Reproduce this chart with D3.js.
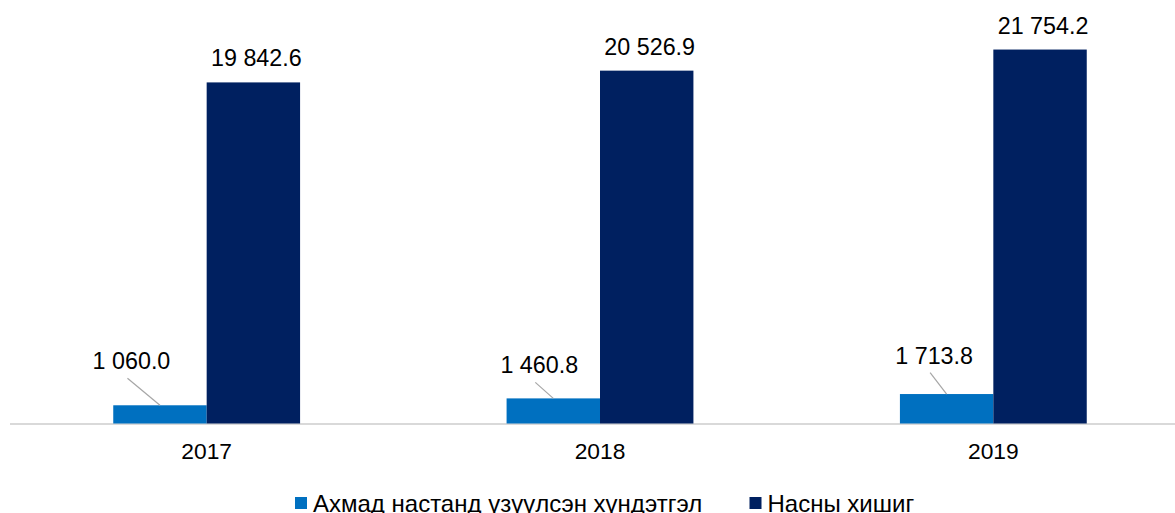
<!DOCTYPE html>
<html>
<head>
<meta charset="utf-8">
<script src="https://cdn.jsdelivr.net/npm/d3@7"></script>
<style>
  html, body { margin: 0; padding: 0; background: #fff; }
  svg { display: block; }
  text { font-family: "Liberation Sans", Arial, sans-serif; fill: #000; }
</style>
</head>
<body>
<svg id="chart" width="1175" height="513"></svg>
<script>
// ---- Data ----
const categories = ["2017", "2018", "2019"];
const seriesNames = ["Ахмад настанд үзүүлсэн хүндэтгэл", "Насны хишиг"];
const honorValues = [1060.0, 1460.8, 1713.8];
const allowanceValues = [19842.6, 20526.9, 21754.2];

// ---- Styling / layout constants ----
const colors = ["#0070C0", "#002060"];
const W = 1175, H = 513;
const plotLeft = 10, plotRight = 1190, baseY = 423.5;
const fontSize = 23.3;
// manual label placement for small series (dx from bar centre, dy of baseline from bar top)
const smallLabelOffsets = [[-28.5, -36], [-14, -25], [-12.5, -30.5]];

const svg = d3.select("#chart");

const x0 = d3.scaleBand().domain(categories).range([plotLeft, plotRight]).paddingInner(0.525).paddingOuter(0.2625);
const x1 = d3.scaleBand().domain([0, 1]).range([0, x0.bandwidth()]).padding(0);
const y = d3.scaleLinear().domain([0, 25000]).range([baseY, baseY - 25000 * 0.01719]);

const fmt = v => {
  const s = v.toFixed(1);
  const [i, d] = s.split(".");
  return i.replace(/\B(?=(\d{3})+(?!\d))/g, " ") + "." + d;
};

const seriesData = [honorValues, allowanceValues];

// axis line
svg.append("line")
  .attr("x1", plotLeft).attr("x2", plotRight)
  .attr("y1", 424).attr("y2", 424)
  .attr("stroke", "#d9d9d9").attr("stroke-width", 2);

// bars
const groups = svg.selectAll("g.cat").data(categories).enter().append("g")
  .attr("class", "cat")
  .attr("transform", d => `translate(${x0(d)},0)`);

seriesData.forEach((vals, si) => {
  groups.append("rect")
    .attr("x", x1(si))
    .attr("width", x1.bandwidth())
    .attr("y", (d, i) => y(vals[i]))
    .attr("height", (d, i) => baseY - y(vals[i]))
    .attr("fill", colors[si]);
});

// large series labels
categories.forEach((c, i) => {
  const cx = x0(c) + x1(1) + x1.bandwidth() / 2;
  svg.append("text")
    .attr("x", cx + 3).attr("y", y(allowanceValues[i]) - 16)
    .attr("text-anchor", "middle")
    .style("font-size", fontSize + "px")
    .text(fmt(allowanceValues[i]));
});

// small series labels with leader lines
categories.forEach((c, i) => {
  const cx = x0(c) + x1(0) + x1.bandwidth() / 2;
  const top = y(honorValues[i]);
  const lx = cx + smallLabelOffsets[i][0];
  const ly = top + smallLabelOffsets[i][1];
  svg.append("line")
    .attr("x1", lx - 4).attr("y1", ly + 9)
    .attr("x2", cx).attr("y2", top)
    .attr("stroke", "#a6a6a6").attr("stroke-width", 1.2);
  svg.append("text")
    .attr("x", lx).attr("y", ly)
    .attr("text-anchor", "middle")
    .style("font-size", fontSize + "px")
    .text(fmt(honorValues[i]));
});

// category axis labels
const xAxis = d3.axisBottom(x0).tickSize(0).tickPadding(0);
const ax = svg.append("g").attr("transform", `translate(0,${baseY})`).call(xAxis);
ax.select(".domain").remove();
ax.selectAll("text")
  .attr("dy", null)
  .attr("y", 35.5)
  .style("font-size", "22.8px")
  .style("font-family", "\"Liberation Sans\", Arial, sans-serif")
  .attr("fill", "#000");

// legend
const legendX = [295, 749.5];
seriesNames.forEach((n, i) => {
  svg.append("rect")
    .attr("x", legendX[i]).attr("y", 497)
    .attr("width", 12).attr("height", 12)
    .attr("fill", colors[i]);
  svg.append("text")
    .attr("x", legendX[i] + 18).attr("y", 511.7)
    .style("font-size", "24px")
    .text(n);
});
</script>
</body>
</html>
